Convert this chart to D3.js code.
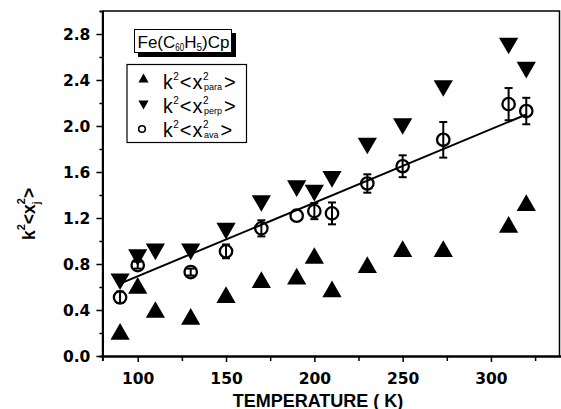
<!DOCTYPE html>
<html><head><meta charset="utf-8">
<script src="https://cdn.jsdelivr.net/npm/d3@7"></script>
<style>body{margin:0;background:#fff}svg{display:block}</style>
</head><body>
<script>
// ---- data ----
const temps = [90,100,110,130,150,170,190,200,210,230,250,273,310,320];
const para  = [0.19,0.59,0.38,0.32,0.51,0.64,0.67,0.85,0.56,0.77,0.91,0.91,1.12,1.31];
const perp  = [0.67,0.88,0.93,0.93,1.11,1.35,1.48,1.44,1.56,1.85,2.02,2.35,2.72,2.51];
const avaTemps = [90,100,130,150,170,190,200,210,230,250,273,310,320];
const ava      = [0.51,0.79,0.73,0.91,1.11,1.22,1.26,1.24,1.50,1.65,1.88,2.19,2.13];
const avaErr   = [0.05,0.03,0.03,0.06,0.07,0.0,0.07,0.095,0.08,0.095,0.155,0.14,0.115];
const fitX = [90,320];
const fitY = [0.63,2.10];
const xTicks = [100,150,200,250,300];
const xMinor = [125,175,225,275,325];
const yTicks = [0.0,0.4,0.8,1.2,1.6,2.0,2.4,2.8];
const yMinor = [0.2,0.6,1.0,1.4,1.8,2.2,2.6];

const W = 561, H = 409;
const FONT = "'Liberation Sans', Arial, Helvetica, sans-serif";
const TICKFONT = "'DejaVu Sans', 'Liberation Sans', sans-serif";
const svg = d3.select("body").append("svg").attr("width", W).attr("height", H)
  .style("font-family", FONT);

const x = d3.scaleLinear().domain([80, 340]).range([102.4, 561.6]);
const y = d3.scaleLinear().domain([0, 3.0]).range([356, 11]);

// frame (top/right)
svg.append("path").attr("d", `M${x(80)},${y(3)}H559.5V${y(0)}`)
  .attr("fill","none").attr("stroke","#000").attr("stroke-width",1.5);

// x axis
const xAxis = svg.append("g").attr("transform", `translate(0,${y(0)})`);
xAxis.call(d3.axisBottom(x).tickValues(xTicks).tickSize(6).tickSizeOuter(0).tickFormat(d3.format("d")));
xAxis.append("g").call(d3.axisBottom(x).tickValues(xMinor).tickSize(5).tickFormat(""));
xAxis.selectAll(".domain").attr("stroke-width", 2);
xAxis.selectAll("line").attr("stroke-width", 1.5);
xAxis.selectAll("text").attr("font-size", 15.5).attr("font-weight","bold").attr("font-family",TICKFONT)
  .attr("y", 28).attr("dy", 0).attr("fill","#000");

// y axis
const yAxis = svg.append("g").attr("transform", `translate(${x(80)},0)`);
yAxis.call(d3.axisLeft(y).tickValues(yTicks).tickSize(6).tickSizeOuter(0).tickFormat(d3.format(".1f")));
yAxis.append("g").call(d3.axisLeft(y).tickValues(yMinor).tickSize(3).tickFormat(""));
yAxis.selectAll(".domain").attr("stroke-width", 2);
yAxis.selectAll("line").attr("stroke-width", 1.5);
yAxis.selectAll("text").attr("font-size", 15.5).attr("font-weight","bold").attr("font-family",TICKFONT)
  .attr("x", -12).attr("dy", "0.38em").attr("fill","#000");

// rich text helper: parts {t,size,dy,sx,stack,gap,pre}
function rich(parent, x0, yb, parts, opts) {
  const g = parent.append("g");
  let cx = x0, prevStart = x0, prevEnd = x0;
  parts.forEach(p => {
    const size = p.size || opts.size;
    const px = (p.stack ? prevStart : cx) + (p.pre || 0);
    const t = g.append("text").attr("x", px).attr("y", yb + (p.dy || 0)).attr("font-size", size)
      .attr("font-weight", opts.weight || "normal").text(p.t);
    if (p.sx) t.attr("transform", `translate(${px},0) scale(${p.sx},1) translate(${-px},0)`);
    const w = t.node().getComputedTextLength() * (p.sx || 1);
    if (p.stack) {
      cx = Math.max(prevEnd, px + w);
    } else {
      prevStart = px; prevEnd = px + w; cx = px + w;
    }
    cx += (p.gap || 0);
  });
  return g;
}

// title box with shadow
svg.append("rect").attr("x", 138).attr("y", 33).attr("width", 98).attr("height", 24).attr("fill","#000");
svg.append("rect").attr("x", 134.5).attr("y", 29.5).attr("width", 97).attr("height", 23)
  .attr("fill","#fff").attr("stroke","#000").attr("stroke-width",1);
rich(svg, 137.5, 48, [
  {t:"Fe(C"},
  {t:"60", size:10, dy:3, sx:0.8},
  {t:"H"},
  {t:"5", size:10, dy:3},
  {t:")Cp"}
], {size:17});

// legend box
svg.append("rect").attr("x", 127).attr("y", 64.5).attr("width", 119.5).attr("height", 78)
  .attr("fill","#fff").attr("stroke","#000").attr("stroke-width",1.2);
const legendSubs = ["para","perp","ava"];
legendSubs.forEach((sub, i) => {
  const base = 88.5 + i * 24;
  if (i === 2) {
    svg.append("circle").attr("cx", 142).attr("cy", base - 7.5).attr("r", 3.3)
      .attr("fill","none").attr("stroke","#000").attr("stroke-width",1.6);
  } else {
    svg.append("path").attr("d", d3.symbol().type(d3.symbolTriangle).size(45)())
      .attr("transform", `translate(143.5,${base - 9}) rotate(${i === 1 ? 180 : 0})`).attr("fill", "#000");
  }
  rich(svg, 163, base, [
    {t:"k", gap:0.5},
    {t:"2", size:10, dy:-8.5, gap:1},
    {t:"<", size:20, gap:1},
    {t:"x", size:20, gap:0.5},
    {t:"2", size:10, dy:-8.5},
    {t:sub, size:9, dy:1.5, stack:true, pre:1, gap:2},
    {t:">", size:20}
  ], {size:19.5});
});

// fit line
const line = d3.line().x((d,i) => x(fitX[i])).y(d => y(d));
svg.append("path").attr("d", line(fitY)).attr("fill","none").attr("stroke","#000").attr("stroke-width",2);

// para (up triangles)
svg.append("g").selectAll("path").data(temps).join("path")
  .attr("d", d3.symbol().type(d3.symbolTriangle).size(160)())
  .attr("transform", (d,i) => `translate(${x(d)},${y(para[i])})`).attr("fill","#000");

// perp (down triangles)
svg.append("g").selectAll("path").data(temps).join("path")
  .attr("d", d3.symbol().type(d3.symbolTriangle).size(160)())
  .attr("transform", (d,i) => `translate(${x(d)},${y(perp[i])}) rotate(180)`).attr("fill","#000");

// ava with error bars
const eg = svg.append("g").attr("stroke","#000").attr("stroke-width",2);
avaTemps.forEach((t,i) => {
  const e = avaErr[i];
  if (e > 0) {
    const cx = x(t), y1 = y(ava[i]+e), y2 = y(ava[i]-e);
    eg.append("line").attr("x1",cx).attr("x2",cx).attr("y1",y1).attr("y2",y2);
    eg.append("line").attr("x1",cx-4).attr("x2",cx+4).attr("y1",y1).attr("y2",y1);
    eg.append("line").attr("x1",cx-4).attr("x2",cx+4).attr("y1",y2).attr("y2",y2);
  }
});
svg.append("g").selectAll("circle").data(avaTemps).join("circle")
  .attr("cx", d => x(d)).attr("cy", (d,i) => y(ava[i])).attr("r", 6.2)
  .attr("fill","none").attr("stroke","#000").attr("stroke-width",2.3);

// axis titles
svg.append("text").attr("x", 318).attr("y", 406.5).attr("text-anchor","middle")
  .attr("font-size", 18).attr("font-weight","bold").text("TEMPERATURE ( K)");

const yl = svg.append("g").attr("transform", "translate(35,240) rotate(-90)");
rich(yl, 0, 0, [
  {t:"k"},
  {t:"2", size:11, dy:-10},
  {t:"<x"},
  {t:"2", size:11, dy:-10},
  {t:"j", size:10, dy:5, stack:true},
  {t:">"}
], {size:17.5, weight:"bold"});
</script>
</body></html>
